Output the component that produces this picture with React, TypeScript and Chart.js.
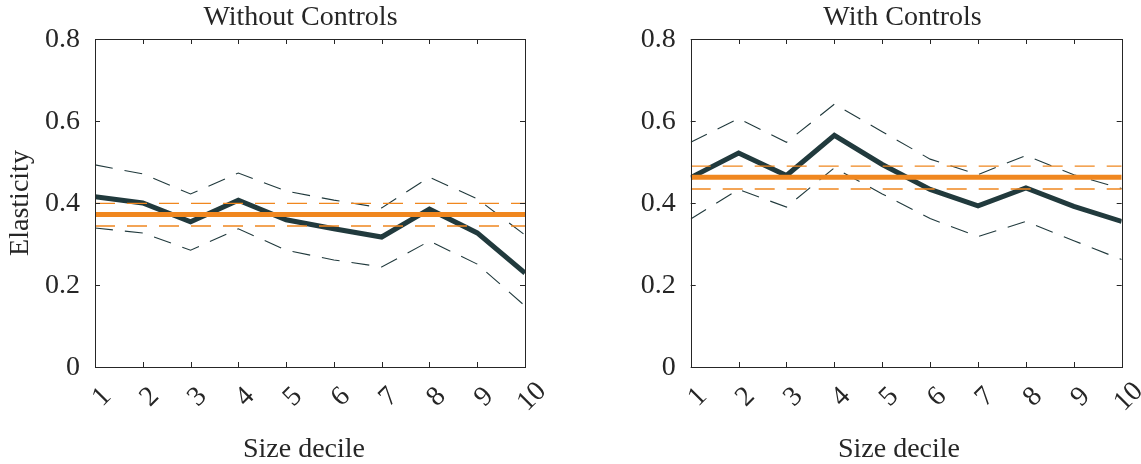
import React, { useEffect, useRef } from 'react';
import { Chart, registerables } from 'chart.js';

Chart.register(...registerables);

// ---------------- data ----------------
const deciles = [1, 2, 3, 4, 5, 6, 7, 8, 9, 10];
const xTickLabels = ['1', '2', '3', '4', '5', '6', '7', '8', '9', '10'];
const yTickValues = [0, 0.2, 0.4, 0.6, 0.8];
const yTickLabels = ['0', '0.2', '0.4', '0.6', '0.8'];
const panelTitles = ['Without Controls', 'With Controls'];
const xAxisTitle = 'Size decile';
const yAxisTitle = 'Elasticity';

const withoutEstimate = [0.415, 0.400, 0.354, 0.407, 0.359, 0.337, 0.317, 0.385, 0.327, 0.229];
const withoutUpper = [0.493, 0.471, 0.422, 0.473, 0.429, 0.407, 0.388, 0.463, 0.410, 0.322];
const withoutLower = [0.339, 0.327, 0.285, 0.337, 0.285, 0.261, 0.244, 0.307, 0.251, 0.149];
const withoutPooled = 0.372;
const withoutPooledLower = 0.344;
const withoutPooledUpper = 0.399;

const withEstimate = [0.462, 0.522, 0.467, 0.565, 0.494, 0.433, 0.393, 0.437, 0.392, 0.355];
const withUpper = [0.548, 0.606, 0.548, 0.641, 0.574, 0.507, 0.469, 0.516, 0.469, 0.435];
const withLower = [0.361, 0.433, 0.390, 0.486, 0.422, 0.362, 0.318, 0.355, 0.308, 0.262];
const withPooled = 0.463;
const withPooledLower = 0.434;
const withPooledUpper = 0.490;

// ---------------- styles ----------------
const FONT = "'Liberation Serif', 'Times New Roman', serif";
const TEXT = '#262626';
const AXIS = '#262626';
const DARK = '#213a3d';
const ORANGE = '#f0871f';
const H = 464;
const PLOT_TOP = 39;
const PLOT_BOTTOM = 367;

type Panel = {
  title: string;
  est: number[];
  up: number[];
  lo: number[];
  pooled: number;
  pooledLo: number;
  pooledHi: number;
  canvasLeft: number;
  canvasWidth: number;
  plotLeft: number;
  plotRight: number;
  titleCx: number;
  xTitleCx: number;
  showYTitle: boolean;
};

const panels: Panel[] = [
  {
    title: panelTitles[0],
    est: withoutEstimate,
    up: withoutUpper,
    lo: withoutLower,
    pooled: withoutPooled,
    pooledLo: withoutPooledLower,
    pooledHi: withoutPooledUpper,
    canvasLeft: 0,
    canvasWidth: 570,
    plotLeft: 95,
    plotRight: 525,
    titleCx: 300.5,
    xTitleCx: 304,
    showYTitle: true,
  },
  {
    title: panelTitles[1],
    est: withEstimate,
    up: withUpper,
    lo: withLower,
    pooled: withPooled,
    pooledLo: withPooledLower,
    pooledHi: withPooledUpper,
    canvasLeft: 570,
    canvasWidth: 571,
    plotLeft: 120.7,
    plotRight: 551.7,
    titleCx: 332.5,
    xTitleCx: 329,
    showYTitle: false,
  },
];

const series = (vals: number[]) => deciles.map((d, i) => ({ x: d, y: vals[i] }));
const flat = (v: number) => [
  { x: deciles[0], y: v },
  { x: deciles[deciles.length - 1], y: v },
];

function makeFramePlugin(p: Panel) {
  return {
    id: 'frame',
    afterDraw(chart: any) {
      const ctx = chart.ctx as CanvasRenderingContext2D;
      const { left, right, top, bottom } = chart.chartArea;
      const xs = chart.scales.x;
      const ys = chart.scales.y;
      ctx.save();
      // box
      ctx.strokeStyle = AXIS;
      ctx.lineWidth = 1;
      ctx.strokeRect(Math.round(left) + 0.5, Math.round(top) + 0.5, Math.round(right - left), Math.round(bottom - top));
      // ticks inward
      const tl = 5;
      ctx.beginPath();
      deciles.forEach((d) => {
        const px = Math.round(xs.getPixelForValue(d)) + 0.5;
        ctx.moveTo(px, bottom);
        ctx.lineTo(px, bottom - tl);
        ctx.moveTo(px, top);
        ctx.lineTo(px, top + tl);
      });
      yTickValues.forEach((v) => {
        const py = Math.round(ys.getPixelForValue(v)) + 0.5;
        ctx.moveTo(left, py);
        ctx.lineTo(left + tl, py);
        ctx.moveTo(right, py);
        ctx.lineTo(right - tl, py);
      });
      ctx.stroke();

      ctx.fillStyle = TEXT;
      ctx.font = `28px ${FONT}`;
      // y tick labels
      ctx.textAlign = 'right';
      ctx.textBaseline = 'middle';
      yTickValues.forEach((v, i) => {
        ctx.fillText(yTickLabels[i], left - 15, ys.getPixelForValue(v) + 1);
      });
      // x tick labels rotated
      deciles.forEach((d, i) => {
        const px = xs.getPixelForValue(d);
        ctx.save();
        ctx.translate(px + 7, 397);
        ctx.rotate(-Math.PI / 4);
        ctx.textAlign = 'center';
        ctx.textBaseline = 'middle';
        ctx.fillText(xTickLabels[i], 0, 0);
        ctx.restore();
      });
      // title
      ctx.textAlign = 'center';
      ctx.textBaseline = 'alphabetic';
      ctx.fillText(p.title, p.titleCx, 25);
      // x title
      ctx.fillText(xAxisTitle, p.xTitleCx, 457);
      // y title
      if (p.showYTitle) {
        ctx.save();
        ctx.translate(28, (top + bottom) / 2);
        ctx.rotate(-Math.PI / 2);
        ctx.textAlign = 'center';
        ctx.textBaseline = 'alphabetic';
        ctx.fillText(yAxisTitle, 0, 0);
        ctx.restore();
      }
      ctx.restore();
    },
  };
}

function PanelChart({ p }: { p: Panel }) {
  const ref = useRef<HTMLCanvasElement | null>(null);
  useEffect(() => {
    if (!ref.current) return;
    const chart = new Chart(ref.current, {
      type: 'line',
      data: {
        datasets: [
          {
            data: flat(p.pooled),
            borderColor: ORANGE,
            borderWidth: 5,
            pointRadius: 0,
            fill: false,
          },
          {
            data: flat(p.pooledHi),
            borderColor: ORANGE,
            borderWidth: 1.4,
            borderDash: [20, 12],
            pointRadius: 0,
            fill: false,
          },
          {
            data: flat(p.pooledLo),
            borderColor: ORANGE,
            borderWidth: 1.4,
            borderDash: [20, 12],
            pointRadius: 0,
            fill: false,
          },
          {
            data: series(p.est),
            borderColor: DARK,
            borderWidth: 5,
            pointRadius: 0,
            tension: 0,
            borderJoinStyle: 'miter',
            fill: false,
          },
          {
            data: series(p.up),
            borderColor: DARK,
            borderWidth: 1.1,
            borderDash: [18, 12],
            pointRadius: 0,
            tension: 0,
            fill: false,
          },
          {
            data: series(p.lo),
            borderColor: DARK,
            borderWidth: 1.1,
            borderDash: [18, 12],
            pointRadius: 0,
            tension: 0,
            fill: false,
          },
        ],
      },
      options: {
        responsive: false,
        animation: false,
        devicePixelRatio: 1,
        layout: {
          padding: {
            left: p.plotLeft,
            right: p.canvasWidth - p.plotRight,
            top: PLOT_TOP,
            bottom: H - PLOT_BOTTOM,
          },
        },
        plugins: {
          legend: { display: false },
          tooltip: { enabled: false },
          title: { display: false },
        },
        scales: {
          x: { type: 'linear', min: 1, max: 10, display: false },
          y: { type: 'linear', min: 0, max: 0.8, display: false },
        },
      } as any,
      plugins: [makeFramePlugin(p)],
    });
    return () => chart.destroy();
  }, [p]);
  return (
    <canvas
      ref={ref}
      width={p.canvasWidth}
      height={H}
      style={{ position: 'absolute', left: p.canvasLeft, top: 0, width: p.canvasWidth, height: H }}
    />
  );
}

export default function App() {
  useEffect(() => {
    document.body.style.margin = '0';
    document.body.style.background = '#ffffff';
  }, []);
  return (
    <div style={{ position: 'relative', width: 1141, height: H, background: '#ffffff', overflow: 'hidden' }}>
      {panels.map((p, i) => (
        <PanelChart key={i} p={p} />
      ))}
    </div>
  );
}
